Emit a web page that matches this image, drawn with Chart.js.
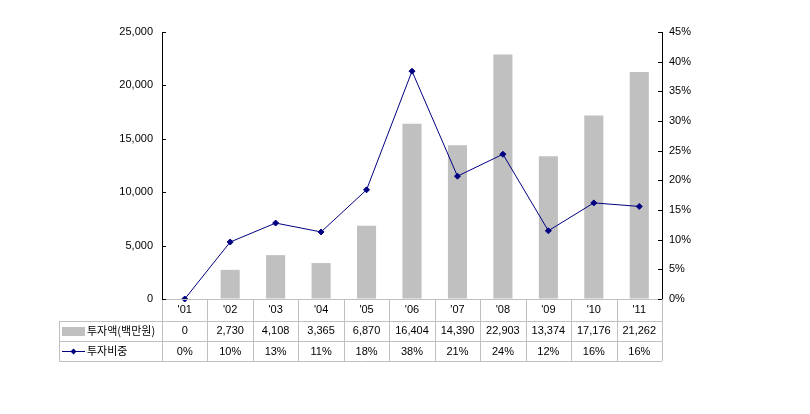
<!DOCTYPE html>
<html>
<head>
<meta charset="utf-8">
<script src="https://cdn.jsdelivr.net/npm/chart.js@4"></script>
<style>
  body { margin: 0; background: #fff; }
  #wrap { width: 810px; height: 414px; }
</style>
</head>
<body>
<div id="wrap"><canvas id="chart" width="810" height="414"></canvas></div>
<script>
// data
const years = ["'01", "'02", "'03", "'04", "'05", "'06", "'07", "'08", "'09", "'10", "'11"];
const amount = [0, 2730, 4108, 3365, 6870, 16404, 14390, 22903, 13374, 17176, 21262];
const share = [0, 9.6, 12.8, 11.3, 18.4, 38.4, 20.7, 24.4, 11.5, 16.2, 15.6];
const amountLabel = '투자액(백만원)';
const shareLabel = '투자비중';

const NAVY = '#000080';
const BAR = '#c0c0c0';
const GRID = '#c0c0c0';
const FONT = '"Liberation Sans", Arial, sans-serif';
const KFONT = '"Noto Sans CJK KR", "Liberation Sans", sans-serif';

// table under the plot (rows y positions)
const rowTop = [299, 321, 341];
const rowBottom = 361;
const tableLeft = 59;

const tablePlugin = {
  id: 'dataTable',
  afterDraw(chart) {
    const ctx = chart.ctx;
    const x = chart.scales.x;
    const area = chart.chartArea;
    const colW = (area.right - area.left) / years.length;

    ctx.save();
    // grid lines of the table
    ctx.strokeStyle = GRID;
    ctx.lineWidth = 1;
    ctx.beginPath();
    ctx.moveTo(area.left, rowTop[0] + 0.5);
    ctx.lineTo(area.right, rowTop[0] + 0.5);
    for (let r = 1; r < rowTop.length; r++) {
      ctx.moveTo(tableLeft, rowTop[r] + 0.5);
      ctx.lineTo(area.right, rowTop[r] + 0.5);
    }
    ctx.moveTo(tableLeft, rowBottom + 0.5);
    ctx.lineTo(area.right, rowBottom + 0.5);
    ctx.moveTo(tableLeft + 0.5, rowTop[1]);
    ctx.lineTo(tableLeft + 0.5, rowBottom);
    for (let i = 0; i <= years.length; i++) {
      const cx = Math.round(area.left + i * colW) + 0.5;
      ctx.moveTo(cx, i === 0 || i === years.length ? rowTop[0] : rowTop[0]);
      ctx.lineTo(cx, rowBottom);
    }
    ctx.stroke();

    // cell texts
    ctx.fillStyle = '#000';
    ctx.textAlign = 'center';
    ctx.textBaseline = 'middle';
    ctx.font = '11px ' + FONT;
    years.forEach((y, i) => {
      const cx = x.getPixelForValue(i);
      ctx.fillText(y, cx, 310);
      ctx.fillText(amount[i].toLocaleString('en-US'), cx, 331);
      ctx.fillText(Math.round(share[i]) + '%', cx, 352);
    });

    // legend keys in the first column
    ctx.fillStyle = BAR;
    ctx.fillRect(62, 327, 23, 9);
    ctx.strokeStyle = NAVY;
    ctx.beginPath();
    ctx.moveTo(62, 351.5);
    ctx.lineTo(85, 351.5);
    ctx.stroke();
    ctx.fillStyle = NAVY;
    ctx.beginPath();
    ctx.moveTo(73.5, 348.5);
    ctx.lineTo(76.5, 351.5);
    ctx.lineTo(73.5, 354.5);
    ctx.lineTo(70.5, 351.5);
    ctx.closePath();
    ctx.fill();

    ctx.fillStyle = '#000';
    ctx.textAlign = 'left';
    ctx.font = '11px ' + KFONT;
    ctx.fillText(amountLabel, 87, 331);
    ctx.fillText(shareLabel, 87, 351);

    // inside tick marks on both value axes
    ctx.strokeStyle = '#000';
    ctx.beginPath();
    chart.scales.y.ticks.forEach(t => {
      const py = Math.round(chart.scales.y.getPixelForValue(t.value)) + 0.5;
      ctx.moveTo(area.left, py);
      ctx.lineTo(area.left + 4, py);
    });
    chart.scales.y1.ticks.forEach(t => {
      const py = Math.round(chart.scales.y1.getPixelForValue(t.value)) + 0.5;
      ctx.moveTo(area.right - 4, py);
      ctx.lineTo(area.right, py);
    });
    ctx.stroke();
    ctx.restore();
  }
};

new Chart(document.getElementById('chart'), {
  data: {
    labels: years,
    datasets: [
      {
        type: 'line',
        label: shareLabel,
        data: share,
        yAxisID: 'y1',
        borderColor: NAVY,
        backgroundColor: NAVY,
        borderWidth: 1,
        pointStyle: 'rectRot',
        pointRadius: 3,
        pointBorderWidth: 1,
        tension: 0,
        clip: false,
        order: 0
      },
      {
        type: 'bar',
        label: amountLabel,
        data: amount,
        yAxisID: 'y',
        backgroundColor: BAR,
        categoryPercentage: 1,
        barPercentage: 0.42,
        order: 1
      }
    ]
  },
  options: {
    responsive: false,
    animation: false,
    devicePixelRatio: 1,
    layout: { padding: { left: 0, right: 88, top: 32, bottom: 115 } },
    plugins: { legend: { display: false }, tooltip: { enabled: false } },
    scales: {
      x: { display: false, offset: true },
      y: {
        position: 'left',
        min: 0, max: 25000,
        ticks: {
          stepSize: 5000,
          color: '#000',
          font: { family: FONT, size: 11 },
          padding: 9,
          callback: v => v.toLocaleString('en-US')
        },
        grid: { drawOnChartArea: false, drawTicks: false },
        border: { color: '#000', width: 1 },
        afterFit: s => { s.width = 162; }
      },
      y1: {
        position: 'right',
        min: 0, max: 45,
        ticks: {
          stepSize: 5,
          color: '#000',
          font: { family: FONT, size: 11 },
          padding: 7,
          callback: v => v + '%'
        },
        grid: { drawOnChartArea: false, drawTicks: false },
        border: { color: '#000', width: 1 },
        afterFit: s => { s.width = 60; }
      }
    }
  },
  plugins: [tablePlugin]
});
</script>
</body>
</html>
